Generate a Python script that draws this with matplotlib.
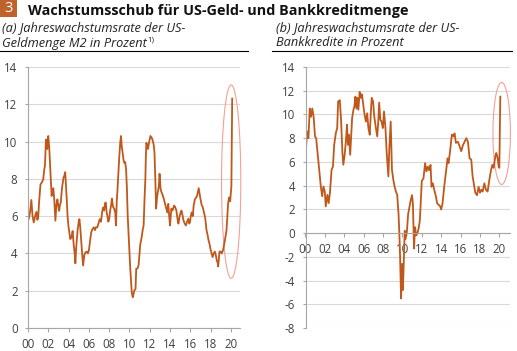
import matplotlib
matplotlib.use("Agg")
import matplotlib.pyplot as plt
from matplotlib.patches import Ellipse, Rectangle

# ---------------- data ----------------
m2_years = [2000.0, 2000.07, 2000.2, 2000.33, 2000.45, 2000.57, 2000.7, 2000.83, 2000.92, 2001.0,
            2001.1, 2001.23, 2001.35, 2001.5, 2001.6, 2001.67, 2001.77, 2001.83, 2001.9, 2001.95,
            2002.0, 2002.1, 2002.2, 2002.33, 2002.42, 2002.5, 2002.6, 2002.7, 2002.8, 2002.9,
            2003.0, 2003.07, 2003.15, 2003.23, 2003.35, 2003.5, 2003.6, 2003.67, 2003.75, 2003.83,
            2003.9, 2004.0, 2004.17, 2004.3, 2004.4, 2004.5, 2004.6, 2004.67, 2004.75, 2004.9,
            2005.0, 2005.07, 2005.15, 2005.23, 2005.35, 2005.43, 2005.55, 2005.67, 2005.8, 2005.9,
            2006.0, 2006.1, 2006.23, 2006.35, 2006.5, 2006.6, 2006.7, 2006.83, 2006.95, 2007.07,
            2007.2, 2007.3, 2007.4, 2007.5, 2007.6, 2007.67, 2007.75, 2007.83, 2007.92, 2008.0,
            2008.1, 2008.2, 2008.27, 2008.38, 2008.5, 2008.6, 2008.67, 2008.75, 2008.83, 2008.92,
            2009.0, 2009.1, 2009.17, 2009.25, 2009.33, 2009.42, 2009.5, 2009.58, 2009.67, 2009.75,
            2009.83, 2009.92, 2010.0, 2010.08, 2010.17, 2010.23, 2010.33, 2010.4, 2010.47, 2010.6,
            2010.67, 2010.8, 2010.9, 2011.0, 2011.07, 2011.15, 2011.23, 2011.32, 2011.4, 2011.48,
            2011.57, 2011.62, 2011.67, 2011.75, 2011.83, 2011.95, 2012.07, 2012.2, 2012.3, 2012.4,
            2012.47, 2012.55, 2012.63, 2012.72, 2012.8, 2012.9, 2012.97, 2013.07, 2013.15, 2013.23,
            2013.35, 2013.47, 2013.6, 2013.73, 2013.83, 2013.92, 2014.0, 2014.13, 2014.25, 2014.4,
            2014.5, 2014.63, 2014.75, 2014.83, 2014.95, 2015.05, 2015.13, 2015.25, 2015.33, 2015.45,
            2015.57, 2015.68, 2015.8, 2015.9, 2015.97, 2016.05, 2016.13, 2016.25, 2016.33, 2016.47,
            2016.58, 2016.67, 2016.75, 2016.83, 2016.92, 2017.0, 2017.12, 2017.23, 2017.35, 2017.47,
            2017.6, 2017.7, 2017.8, 2017.9, 2018.0, 2018.1, 2018.2, 2018.3, 2018.42, 2018.52,
            2018.62, 2018.7, 2018.75, 2018.82, 2018.88, 2019.0, 2019.1, 2019.24, 2019.41, 2019.57,
            2019.65, 2019.73, 2019.83, 2019.93, 2020.05, 2020.13]
m2_vals = [5.8, 5.84, 6.2, 6.87, 6.0, 5.66, 6.0, 6.23, 5.8, 5.9,
           6.8, 7.7, 7.8, 7.97, 8.5, 8.7, 10.1, 9.8, 9.6, 10.2,
           10.3, 9.6, 8.5, 7.08, 7.4, 7.5, 6.8, 5.76, 6.6, 6.9,
           6.5, 6.28, 6.6, 6.73, 7.5, 8.06, 8.2, 8.36, 7.6, 6.8,
           6.0, 5.4, 4.77, 4.9, 5.2, 4.5, 4.0, 3.47, 4.3, 5.3,
           5.7, 5.84, 5.4, 4.77, 3.9, 3.35, 3.9, 4.06, 4.1, 4.0,
           4.15, 4.6, 5.12, 5.3, 5.4, 5.25, 5.4, 5.4, 5.6, 5.84,
           5.7, 6.2, 6.46, 6.3, 6.7, 6.73, 6.2, 6.0, 5.7, 5.84,
           6.3, 6.6, 6.94, 6.5, 6.4, 6.2, 5.5, 6.8, 7.5, 8.4,
           9.2, 10.0, 10.3, 9.7, 9.4, 9.0, 8.86, 8.9, 8.5, 7.5,
           6.0, 5.0, 4.06, 3.2, 2.46, 1.9, 1.65, 1.8, 2.0, 2.1,
           3.18, 3.2, 3.36, 4.0, 4.5, 4.7, 4.96, 5.3, 5.5, 6.8,
           8.0, 9.2, 9.93, 9.8, 9.6, 10.0, 10.3, 10.2, 10.05, 9.8,
           9.4, 8.0, 6.4, 7.0, 7.3, 7.6, 8.27, 7.46, 7.3, 7.2,
           7.0, 6.75, 6.5, 6.2, 6.66, 6.0, 5.5, 6.4, 6.3, 6.57,
           6.5, 6.3, 5.8, 5.6, 6.0, 6.2, 6.3, 6.0, 5.77, 5.6,
           5.5, 5.7, 5.86, 5.6, 5.68, 6.0, 6.2, 6.0, 6.57, 6.93,
           7.0, 7.1, 7.3, 7.5, 7.2, 6.93, 6.6, 6.48, 6.2, 5.9,
           5.25, 5.0, 4.7, 4.5, 4.2, 4.0, 3.8, 4.0, 4.1, 3.9,
           3.6, 3.5, 3.3, 3.7, 4.1, 4.1, 4.0, 4.2, 4.7, 5.25,
           6.0, 6.7, 7.0, 6.8, 7.6, 12.3]

credit_years = [2000.0, 2000.1, 2000.17, 2000.3, 2000.44, 2000.57, 2000.7, 2000.84, 2000.98, 2001.1,
                2001.25, 2001.41, 2001.58, 2001.72, 2001.85, 2001.99, 2002.09, 2002.26, 2002.39, 2002.52,
                2002.69, 2002.83, 2002.96, 2003.13, 2003.27, 2003.37, 2003.54, 2003.67, 2003.8, 2003.9,
                2004.04, 2004.18, 2004.28, 2004.38, 2004.48, 2004.61, 2004.71, 2004.81, 2004.95, 2005.05,
                2005.15, 2005.25, 2005.35, 2005.45, 2005.59, 2005.72, 2005.82, 2005.96, 2006.09, 2006.23,
                2006.36, 2006.49, 2006.63, 2006.73, 2006.83, 2006.97, 2007.1, 2007.24, 2007.4, 2007.5,
                2007.6, 2007.72, 2007.85, 2007.98, 2008.1, 2008.25, 2008.38, 2008.55, 2008.65, 2008.79,
                2008.92, 2009.06, 2009.19, 2009.33, 2009.46, 2009.6, 2009.68, 2009.76, 2009.86, 2009.96,
                2010.05, 2010.17, 2010.24, 2010.32, 2010.45, 2010.59, 2010.72, 2010.85, 2010.99, 2011.08,
                2011.2, 2011.3, 2011.42, 2011.55, 2011.7, 2011.8, 2011.9, 2012.0, 2012.17, 2012.34,
                2012.48, 2012.62, 2012.76, 2012.9, 2013.0, 2013.14, 2013.24, 2013.45, 2013.59, 2013.72,
                2013.9, 2014.0, 2014.14, 2014.31, 2014.48, 2014.66, 2014.76, 2014.93, 2015.1, 2015.28,
                2015.38, 2015.52, 2015.72, 2015.86, 2016.07, 2016.24, 2016.41, 2016.59, 2016.76, 2016.93,
                2017.1, 2017.24, 2017.38, 2017.52, 2017.69, 2017.86, 2018.0, 2018.14, 2018.28, 2018.45,
                2018.62, 2018.79, 2018.97, 2019.14, 2019.28, 2019.41, 2019.59, 2019.69, 2019.83, 2019.93,
                2020.0, 2020.1]
credit_vals = [6.5, 7.8, 8.57, 8.0, 10.5, 9.8, 10.5, 9.8, 8.15, 8.0,
               6.74, 5.34, 3.93, 3.1, 3.93, 3.5, 2.25, 3.23, 2.53, 3.37,
               5.34, 5.6, 7.44, 8.43, 8.85, 11.1, 11.2, 9.55, 6.88, 5.76,
               6.6, 7.87, 9.13, 7.44, 8.29, 6.6, 8.15, 9.7, 10.4, 10.7,
               11.5, 10.5, 11.4, 10.4, 11.9, 11.4, 11.7, 10.8, 10.0, 9.4,
               10.1, 8.85, 8.29, 10.0, 11.4, 11.1, 9.8, 8.99, 8.15, 9.27,
               11.0, 9.55, 9.4, 8.85, 10.25, 8.85, 6.74, 4.78, 7.16, 9.4,
               5.34, 4.5, 3.93, 3.5, 3.23, 1.6, 0.0, -2.0, -5.5, -2.6,
               -4.8, -1.5, 0.2, -0.5, 0.0, 1.6, 2.2, 2.75, 3.2, 2.5,
               -1.3, 0.5, -0.2, 0.0, 0.5, 1.1, 2.75, 4.4, 4.6, 5.9,
               5.2, 5.6, 5.3, 5.75, 3.9, 4.2, 3.8, 3.1, 2.5, 2.4,
               2.25, 2.0, 2.5, 3.9, 5.05, 6.3, 5.9, 7.0, 8.3, 8.15,
               8.4, 7.6, 7.7, 7.4, 6.9, 7.4, 7.7, 8.0, 7.7, 6.3,
               6.2, 4.8, 4.1, 3.4, 3.2, 3.9, 3.4, 3.65, 3.5, 4.2,
               3.65, 3.5, 4.5, 5.3, 5.75, 5.5, 6.5, 6.75, 6.3, 5.6,
               5.5, 11.5]

x_ticks = [2000, 2002, 2004, 2006, 2008, 2010, 2012, 2014, 2016, 2018, 2020]
x_labels = ["00", "02", "04", "06", "08", "10", "12", "14", "16", "18", "20"]
m2_yticks = [0, 2, 4, 6, 8, 10, 12, 14]
credit_yticks = [-8, -6, -4, -2, 0, 2, 4, 6, 8, 10, 12, 14]

title = "Wachstumsschub für US-Geld- und Bankkreditmenge"
sub_a1 = "(a) Jahreswachstumsrate der US-"
sub_a2 = "Geldmenge M2 in Prozent"
sub_a_note = "1)"
sub_b1 = "(b) Jahreswachstumsrate der US-"
sub_b2 = "Bankkredite in Prozent"

# ---------------- style ----------------
FONT = "Open Sans"
plt.rcParams["font.family"] = [FONT, "DejaVu Sans"]
LINE = "#C0581C"
ELL = "#F2A196"
GRID = "#D9D9D9"
AXC = "#A6A6A6"
TXT = "#404040"

W, H = 517, 351
fig = plt.figure(figsize=(W / 100, H / 100), dpi=100)

def fx(x):
    return x / W

def fy(y):
    return 1 - y / H

def style_axes(ax, yticks):
    ax.set_yticks(yticks)
    ax.set_yticklabels([str(v) for v in yticks])
    ax.set_xticks(x_ticks)
    ax.set_xticklabels(x_labels)
    ax.grid(axis="y", color=GRID, linewidth=0.8)
    ax.set_axisbelow(True)
    for s in ["top", "right"]:
        ax.spines[s].set_visible(False)
    ax.spines["left"].set_color(AXC)
    ax.spines["bottom"].set_color(AXC)
    ax.spines["left"].set_linewidth(0.8)
    ax.spines["bottom"].set_linewidth(0.8)
    ax.tick_params(axis="x", direction="out", length=3, width=0.8, color=AXC,
                   labelsize=8.3, labelcolor=TXT, pad=4)
    ax.tick_params(axis="y", direction="out", length=2, width=0.8, color=AXC,
                   labelsize=8.3, labelcolor=TXT, pad=5.5)

# Left axes
ax1 = fig.add_axes([fx(28), fy(328), fx(240) - fx(28), (328 - 67) / H])
ax1.plot(m2_years, m2_vals, color=LINE, linewidth=1.3)
ax1.set_xlim(2000, 2020.9)
ax1.set_ylim(0, 14)
style_axes(ax1, m2_yticks)
ax1.add_patch(Ellipse((2020.03, 7.85), 1.9, 10.37, fill=False, edgecolor=ELL,
                      linewidth=0.8, clip_on=False))

# Right axes
ax2 = fig.add_axes([fx(305.5), fy(328), fx(510) - fx(305.5), (328 - 67) / H])
ax2.plot(credit_years, credit_vals, color=LINE, linewidth=1.3)
ax2.set_xlim(2000, 2021.1)
ax2.set_ylim(-8, 14)
style_axes(ax2, credit_yticks)
ax2.spines["bottom"].set_position(("data", 0))
ax2.add_patch(Ellipse((2020.24, 8.4), 1.8, 8.6, fill=False, edgecolor=ELL,
                      linewidth=0.8, clip_on=False))

# Title block
fig.patches.append(Rectangle((fx(0), fy(17)), fx(17), 17 / H, transform=fig.transFigure,
                             facecolor="#C0622B", edgecolor="none"))
fig.text(fx(8.5), fy(8.5), "3", color="white", fontsize=10.5, ha="center", va="center")
fig.text(fx(28), fy(14.5), title, fontsize=10.4, fontweight="bold", color="#111111",
         ha="left", va="baseline")

# Subtitles
sub_kw = dict(fontsize=9.2, style="italic", color="#222222", ha="left", va="baseline")
fig.text(fx(2), fy(31.5), sub_a1, **sub_kw)
t2 = fig.text(fx(2), fy(46.5), sub_a2, **sub_kw)
fig.text(fx(276), fy(31.5), sub_b1, **sub_kw)
fig.text(fx(276), fy(46.5), sub_b2, **sub_kw)

fig.canvas.draw()
bb = t2.get_window_extent()
fig.text(bb.x1 / W, fy(41.5), sub_a_note, fontsize=5.8, color="#222222",
         ha="left", va="baseline")

# Underlines
fig.add_artist(plt.Line2D([fx(0), fx(248)], [fy(50.5), fy(50.5)], color="black", linewidth=0.8))
fig.add_artist(plt.Line2D([fx(272), fx(512)], [fy(50.5), fy(50.5)], color="black", linewidth=0.8))

fig.savefig("out.png", dpi=100)
